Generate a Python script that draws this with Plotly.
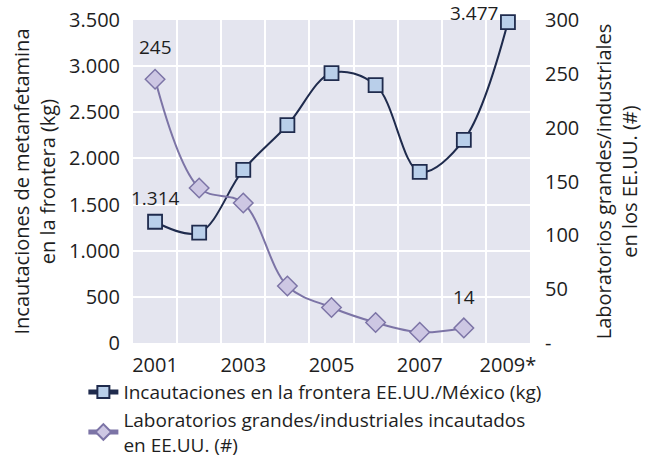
import plotly.graph_objects as go

years = [2001, 2002, 2003, 2004, 2005, 2006, 2007, 2008, 2009]
seizures_kg = [1314, 1195, 1875, 2360, 2925, 2795, 1855, 2200, 3477]
labs = [245, 144, 130, 53, 33, 19, 10, 14]
lab_years = years[:8]

x_tickvals = [2001, 2003, 2005, 2007, 2009]
x_ticktext = ["2001", "2003", "2005", "2007", "2009*"]
y1_ticks = [0, 500, 1000, 1500, 2000, 2500, 3000, 3500]
y2_ticks = [0, 50, 100, 150, 200, 250, 300]
y2_text = ["-", "50", "100", "150", "200", "250", "300"]

FONT = "Open Sans"
TXT = "#1e1e1e"
FS = 20

fig = go.Figure()
fig.add_trace(go.Scatter(
    x=years, y=seizures_kg, name="Incautaciones en la frontera EE.UU./México (kg)",
    mode="lines+markers",
    line=dict(color="#1f2b4d", width=2, shape="spline"),
    marker=dict(symbol="square", size=14, color="#b9cfea",
                line=dict(color="#1f2b4d", width=1.8)),
    yaxis="y", cliponaxis=False))
fig.add_trace(go.Scatter(
    x=lab_years, y=labs, name="Laboratorios grandes/industriales incautados<br>en EE.UU. (#)",
    mode="lines+markers",
    line=dict(color="#7c74a6", width=2, shape="spline"),
    marker=dict(symbol="diamond", size=15, color="#cdc7e3",
                line=dict(color="#7c74a6", width=1.5)),
    yaxis="y2", cliponaxis=False))

afont = dict(size=19, color=TXT, family=FONT)
annots = [
    dict(x=years[0], y=seizures_kg[0], yref="y", text=f"{seizures_kg[0]:,}".replace(",", "."),
         yshift=24, showarrow=False, font=afont),
    dict(x=years[-1], y=seizures_kg[-1], yref="y", text=f"{seizures_kg[-1]:,}".replace(",", "."),
         xanchor="right", xshift=-8, yshift=9, showarrow=False, font=afont),
    dict(x=lab_years[0], y=labs[0], yref="y2", text=str(labs[0]),
         yshift=32, showarrow=False, font=afont),
    dict(x=lab_years[-1], y=labs[-1], yref="y2", text=str(labs[-1]),
         yshift=31, showarrow=False, font=afont),
]

fig.update_layout(
    width=649, height=458,
    margin=dict(l=133, r=119, t=20, b=115, autoexpand=False),
    paper_bgcolor="white", plot_bgcolor="#e4e5ef",
    separators=",.",
    font=dict(family=FONT, size=FS, color=TXT),
    showlegend=True,
    annotations=annots,
    legend=dict(x=-0.125, y=-0.093, xanchor="left", yanchor="top",
                orientation="v", bgcolor="rgba(0,0,0,0)",
                font=dict(size=19, color=TXT), tracegroupgap=0,
                itemsizing="constant"),
    xaxis=dict(range=[2000.5, 2009.5], tickvals=x_tickvals, ticktext=x_ticktext,
               showgrid=False, zeroline=False, showline=False, automargin=False,
               ticks="outside", ticklen=4, tickcolor="rgba(0,0,0,0)",
               minor=dict(tickvals=[2000.5 + i for i in range(10)], showgrid=True,
                          gridcolor="white", gridwidth=1.5, ticks="")),
    yaxis=dict(range=[0, 3500], tickvals=y1_ticks, tickformat=",d", automargin=False,
               showgrid=True, gridcolor="white", gridwidth=1.5, zeroline=False,
               ticks="outside", ticklen=8, tickcolor="rgba(0,0,0,0)",
               title=dict(text="Incautaciones de metanfetamina<br>en la frontera (kg)",
                          font=dict(size=FS, color=TXT), standoff=8)),
    yaxis2=dict(range=[0, 300], tickvals=y2_ticks, ticktext=y2_text, automargin=False,
                overlaying="y", side="right", showgrid=False, zeroline=False,
                ticks="outside", ticklen=10, tickcolor="rgba(0,0,0,0)",
                title=dict(text="Laboratorios grandes/industriales<br>en los EE.UU. (#)",
                           font=dict(size=FS, color=TXT), standoff=18)),
)

fig.write_html("out.html")
